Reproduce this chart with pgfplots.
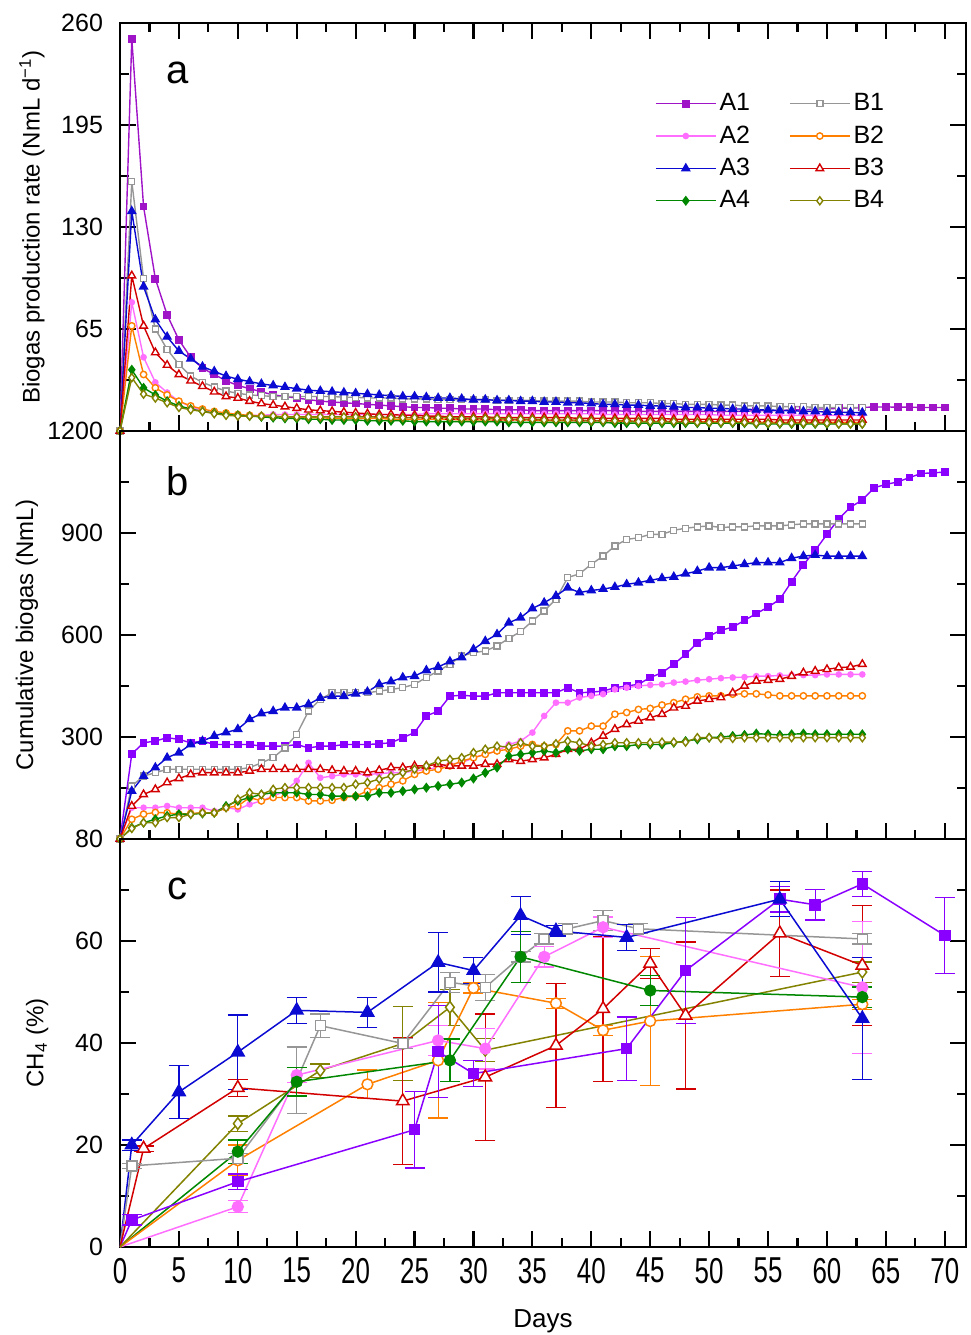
\documentclass[border=0pt]{standalone}
\usepackage{fontspec}
\setmainfont{Liberation Sans}
\usepackage{pgfplots}
\usepackage{pgfplotstable}
\pgfplotsset{compat=1.18}

\definecolor{cA1a}{RGB}{160,20,200}
\definecolor{cA1}{RGB}{138,0,255}
\definecolor{cA2}{RGB}{255,110,255}
\definecolor{cA3}{RGB}{10,10,210}
\definecolor{cA4}{RGB}{0,135,0}
\definecolor{cB1}{RGB}{150,150,150}
\definecolor{cB2}{RGB}{255,128,0}
\definecolor{cB3}{RGB}{210,0,0}
\definecolor{cB4}{RGB}{130,130,0}

\pgfplotstableread{
d A1 A2 A3 A4 B1 B2 B3 B4
0 0 0 0 0 0 0 0 0
1 250 82 140 39 159 67 99 34
2 143 47 92 27.5 97 36 67 23.5
3 97 31 71 23 65 27.5 50 21
4 74 24.5 60 19 52 23 42 18
5 58 19 51 16 42.5 19 36 15
6 47 15.5 46 14 35 16 32 13.5
7 40 13 41 12.5 31 14 28.5 12.5
8 36 11.5 38 11.5 28 12.5 25 11
9 32 10.5 35 10.5 25.5 11.5 22 10
10 29 10 33 10 24 10.5 21 9.5
11 27 10 31.5 9.5 23 10 19 9.5
12 25 10 30 9 22.5 9.5 17.5 9.5
13 23 10.5 29 8.5 22 9 16.5 9.5
14 22 10.5 28 8 22 9 15.5 9
15 21 10.5 27 8 22 8.5 14.5 9
16 20 10.5 26 7.5 22 8.5 13.5 9
17 19 10.5 25.5 7.5 22 8.5 13 9
18 18.5 10.5 25 7 22 8 12.5 9
19 18 10.5 24.5 7 21.5 8 12 9
20 17.5 10.5 24 7 21.5 8 11.5 9
21 17 10.5 23.5 6.5 21 8 11 9
22 16.5 10.5 23 6.5 21 8 10.5 9
23 16 10.5 22.5 6.5 21 7.5 10.5 8.5
24 15.5 10.5 22 6.5 20.5 7.5 10 8.5
25 15 10.5 22 6 20.5 7.5 10 8.5
26 15 11 21.5 6 20.5 7.5 9.5 8.5
27 14.5 11 21 6 20 7.5 9.5 8.5
28 14.5 11 21 6 20 7.5 9 8.5
29 14 11 20.5 6 20 7 9 8
30 14 11 20 6 20 7 9 8
31 14 11 20 6 20 7 9 8
32 13.5 11 19.5 6 19.5 7 8.5 8
33 13.5 11 19.5 5.5 19.5 7 8.5 7.5
34 13.5 11 19 5.5 19.5 7 8.5 7.5
35 13 11 19 5.5 19.5 7 8.5 7.5
36 13 11 18.5 5.5 19 6.5 8.5 7
37 13 11 18.5 5.5 19 6.5 8.5 7
38 13 11 18 5.5 19 6.5 8.5 7
39 13 11 18 5.5 19 6.5 8 7
40 13 11 17.5 5.5 18.5 6.5 8 6.5
41 13 10.5 17 5.5 18.5 6.5 8 6.5
42 13 10.5 17 5 18.5 6.5 8 6.5
43 12.5 10.5 16.5 5 18 6 8 6.5
44 12.5 10.5 16.5 5 18 6 8 6
45 12.5 10.5 16 5 18 6 8 6
46 12.5 10.5 16 5 17.5 6 8 6
47 12.5 10.5 15.5 5 17.5 6 7.5 6
48 12.5 10.5 15 5 17 6 7.5 6
49 12.5 10.5 15 5 17 6 7.5 5.5
50 12.5 10.5 14.5 5 17 6 7.5 5.5
51 12.5 10 14.5 5 16.5 6 7.5 5.5
52 12.5 10 14 5 16.5 6 7.5 5.5
53 12.5 10 14 5 16 5.5 7.5 5.5
54 13 10 13.5 4.5 16 5.5 7.5 5
55 13 10 13.5 4.5 16 5.5 7.5 5
56 13 10 13 4.5 15.5 5.5 7 5
57 13.5 10 13 4.5 15.5 5.5 7 5
58 13.5 10 12.5 4.5 15.5 5.5 7 5
59 14 10 12.5 4.5 15 5.5 7 5
60 14 10 12 4.5 15 5.5 7 5
61 14.5 10 12 4.5 15 5.5 7 4.5
62 14.5 10 11.8 4.5 15 5.5 7 4.5
63 15 10 11.7 4.5 15 5.5 7 4.5
64 15.3 nan nan nan nan nan nan nan
65 15.3 nan nan nan nan nan nan nan
66 15.2 nan nan nan nan nan nan nan
67 15.2 nan nan nan nan nan nan nan
68 15 nan nan nan nan nan nan nan
69 15 nan nan nan nan nan nan nan
70 15 nan nan nan nan nan nan nan
}\rateA

\pgfplotstableread{
d A1 A2 A3 A4 B1 B2 B3 B4
0 0 0 0 0 0 0 0 0
1 250 92 141 33 156 58 97 31
2 283 92 185 48 185 73 131 48
3 288 92 210 58 195 78 146 48
4 298 97 239 68 205 77 166 63
5 293 92 254 73 205 73 178 63
6 283 92 278 73 205 75 190 73
7 288 92 288 75 205 77 195 77
8 278 82 303 77 205 77 195 77
9 278 92 313 97 205 92 195 92
10 278 87 323 112 205 97 195 117
11 278 102 352 122 210 122 200 136
12 273 112 369 131 224 112 205 131
13 273 126 376 136 239 122 205 146
14 273 141 386 136 268 122 205 151
15 278 171 386 136 308 122 205 151
16 268 224 396 131 376 112 205 151
17 273 180 415 131 411 112 205 151
18 273 185 420 126 430 114 202 151
19 278 190 420 126 430 122 200 151
20 278 190 427 126 430 126 200 161
21 278 190 433 126 430 141 195 166
22 280 192 455 136 435 151 202 176
23 283 195 463 136 440 161 210 185
24 298 195 475 141 445 171 210 195
25 313 200 479 146 455 190 215 205
26 362 205 496 151 475 200 215 215
27 376 210 506 156 494 205 220 229
28 420 220 522 161 514 215 215 234
29 423 224 534 166 538 229 215 239
30 420 239 558 178 548 239 215 254
31 420 249 582 195 553 249 220 264
32 430 259 602 210 568 259 220 273
33 430 278 636 244 590 264 234 271
34 430 288 651 249 610 273 229 283
35 430 313 678 254 641 278 234 273
36 430 362 695 259 671 273 239 273
37 430 401 715 254 705 278 249 280
38 445 401 739 264 769 318 264 288
39 430 416 725 259 780 318 264 283
40 432 421 731 264 808 332 283 273
41 435 426 735 264 832 332 303 278
42 445 440 741 273 862 367 323 283
43 450 445 749 273 881 372 337 283
44 455 450 754 278 886 381 347 283
45 475 453 761 278 896 384 357 283
46 489 455 767 278 896 394 367 285
47 514 460 771 283 908 401 386 285
48 543 463 780 288 914 411 391 285
49 577 467 788 293 918 418 406 298
50 597 470 798 298 921 421 411 298
51 614 473 798 300 916 421 416 296
52 623 475 803 303 918 426 430 296
53 643 476 808 306 918 427 450 298
54 663 479 813 310 921 427 465 298
55 682 479 813 308 921 424 467 298
56 705 481 813 306 921 421 470 298
57 757 482 826 308 924 421 479 298
58 806 482 832 310 927 421 489 298
59 849 482 835 308 927 421 494 298
60 896 484 832 308 927 421 499 298
61 942 484 832 308 927 421 504 298
62 976 484 832 308 927 421 506 298
63 997 484 832 308 927 421 514 298
64 1033 nan nan nan nan nan nan nan
65 1043 nan nan nan nan nan nan nan
66 1050 nan nan nan nan nan nan nan
67 1063 nan nan nan nan nan nan nan
68 1075 nan nan nan nan nan nan nan
69 1077 nan nan nan nan nan nan nan
70 1079 nan nan nan nan nan nan nan
}\cumB

\pgfplotsset{
  base/.style={
    scale only axis, width=423bp, height=204bp,
    xmin=0, xmax=71.8,
    xtick={0,5,...,70}, minor x tick num=1, minor y tick num=1,
    tick align=inside,
    major tick length=8bp, minor tick length=4.5bp,
    axis line style={line width=1.1bp},
    tick style={black, line width=1.1bp},
    xticklabels={},
    yticklabel style={font=\fontsize{12.5bp}{15bp}\selectfont, xshift=-5bp},
    ylabel style={font=\fontsize{12bp}{14bp}\selectfont, anchor=center},
    /pgf/number format/assume math mode=true,
  },
  pl/.style={line width=0.7bp},
  pc/.style={line width=0.75bp,
     error bars/y dir=both, error bars/y explicit,
     error bars/error bar style={line width=0.6bp},
     error bars/error mark options={rotate=90, mark size=5bp, line width=0.6bp}},
}

\begin{document}
\begin{tikzpicture}
\useasboundingbox (-60bp,-44bp) rectangle (425.5bp,623.5bp);

% ---------------- panel a
\begin{axis}[base, at={(0,408bp)},
  ymin=0, ymax=260, ytick={0,65,130,195,260}, yticklabels={,65,130,195,260},
  ylabel={Biogas production rate (NmL d\textsuperscript{−1})},
  ylabel style={at={(axis description cs:-0.104,0.5)}},
  legend columns=2,
  legend cell align=left,
  legend image code/.code={\draw[mark repeat=2,mark phase=2,#1] plot coordinates {(0bp,0bp) (15bp,0bp) (30bp,0bp)};},
  legend style={draw=none, fill=none, at={(rel axis cs:0.625,0.845)}, anchor=north west,
     font=\fontsize{12.5bp}{15bp}\selectfont, row sep=3bp,
     nodes={inner sep=1.5bp},
     /tikz/every even column/.append style={column sep=18bp}},
]
\addplot[pl, cA1a, mark=square*, mark size=1.6bp] table[x=d,y=A1]{\rateA};
\addlegendentry{A1}
\addplot[pl, cB1, mark=square*, mark size=1.5bp, mark options={fill=white}] table[x=d,y=B1]{\rateA};
\addlegendentry{B1}
\addplot[pl, cA2, mark=*, mark size=1.3bp] table[x=d,y=A2]{\rateA};
\addlegendentry{A2}
\addplot[pl, cB2, mark=*, mark size=1.6bp, mark options={fill=white}] table[x=d,y=B2]{\rateA};
\addlegendentry{B2}
\addplot[pl, cA3, mark=triangle*, mark size=2.2bp] table[x=d,y=A3]{\rateA};
\addlegendentry{A3}
\addplot[pl, cB3, mark=triangle*, mark size=2.2bp, mark options={fill=white}] table[x=d,y=B3]{\rateA};
\addlegendentry{B3}
\addplot[pl, cA4, mark=diamond*, mark size=2bp] table[x=d,y=A4]{\rateA};
\addlegendentry{A4}
\addplot[pl, cB4, mark=diamond*, mark size=2bp, mark options={fill=white}] table[x=d,y=B4]{\rateA};
\addlegendentry{B4}
\node[font=\fontsize{20bp}{24bp}\selectfont] at (axis cs:4.9,228) {a};
\end{axis}

% ---------------- panel b
\begin{axis}[base, at={(0,204bp)}, xtick pos=left,
  ymin=0, ymax=1200, ytick={0,300,600,900,1200}, yticklabels={,300,600,900,1200},
  ylabel={Cumulative biogas (NmL)},
  ylabel style={at={(axis description cs:-0.11,0.5)}},
]
\addplot[pl, cA1, mark=square*, mark size=1.6bp] table[x=d,y=A1]{\cumB};
\addplot[pl, cB1, mark=square*, mark size=1.5bp, mark options={fill=white}] table[x=d,y=B1]{\cumB};
\addplot[pl, cA2, mark=*, mark size=1.3bp] table[x=d,y=A2]{\cumB};
\addplot[pl, cB2, mark=*, mark size=1.6bp, mark options={fill=white}] table[x=d,y=B2]{\cumB};
\addplot[pl, cA3, mark=triangle*, mark size=2.2bp] table[x=d,y=A3]{\cumB};
\addplot[pl, cB3, mark=triangle*, mark size=2.2bp, mark options={fill=white}] table[x=d,y=B3]{\cumB};
\addplot[pl, cA4, mark=diamond*, mark size=2bp] table[x=d,y=A4]{\cumB};
\addplot[pl, cB4, mark=diamond*, mark size=2bp, mark options={fill=white}] table[x=d,y=B4]{\cumB};
\node[font=\fontsize{20bp}{24bp}\selectfont] at (axis cs:4.9,1053) {b};
\end{axis}

% ---------------- panel c
\begin{axis}[base, at={(0,0)}, xtick pos=left,
  ymin=0, ymax=80, ytick={0,20,40,60,80},
  xticklabels={0,5,10,15,20,25,30,35,40,45,50,55,60,65,70},
  xticklabel style={font=\fontsize{18bp}{20bp}\selectfont, xscale=0.72, yshift=-2bp},
  xlabel={Days},
  xlabel style={font=\fontsize{13bp}{15bp}\selectfont, at={(axis description cs:0.5,-0.181)}, anchor=center},
  ylabel={CH\textsubscript{4} (\%)},
  ylabel style={at={(axis description cs:-0.098,0.5)}},
]
% first segments from the origin
\addplot[line width=0.75bp, cA1] coordinates {(0,0) (1,5.3)};
\addplot[line width=0.75bp, cA2] coordinates {(0,0) (10,7.9)};
\addplot[line width=0.75bp, cA3] coordinates {(0,0) (1,20)};
\addplot[line width=0.75bp, cA4] coordinates {(0,0) (10,18.7)};
\addplot[line width=0.75bp, cB1] coordinates {(0,0) (1,15.9)};
\addplot[line width=0.75bp, cB2] coordinates {(0,0) (10,17)};
\addplot[line width=0.75bp, cB3] coordinates {(0,0) (2,19.3)};
\addplot[line width=0.75bp, cB4] coordinates {(0,0) (10,24.2)};

\addplot[pc, cB4, mark=diamond*, mark size=2.9bp, mark options={fill=white}] coordinates {
 (10,24.2) +- (0,1.5) (17,34.6) +- (0,1.3) (24,39.9) +- (0,7.3) (28,47) +- (0,3.5)
 (31,38.6) +- (0,2.3) (63,53.9) +- (0,2)};
\addplot[pc, cB2, mark=*, mark size=2.7bp, mark options={fill=white}] coordinates {
 (10,17) +- (0,3) (21,31.9) +- (0,2.8) (27,36.6) +- (0,11.3) (30,50.8) +- (0,1)
 (37,47.8) +- (0,1) (41,42.5) +- (0,1) (45,44.3) +- (0,12.7) (63,47.6) +- (0,1)};
\addplot[pc, cB3, mark=triangle*, mark size=3.6bp, mark options={fill=white}] coordinates {
 (2,19.3) +- (0,0.5) (10,31.2) +- (0,1.7) (24,28.6) +- (0,12.4) (31,33.3) +- (0,12.4)
 (37,39.5) +- (0,12.2) (41,46.7) +- (0,14.2) (45,55.6) +- (0,3) (48,45.4) +- (0,14.4)
 (56,61.5) +- (0,8.5) (63,55.2) +- (0,11.7)};
\addplot[pc, cB1, mark=square*, mark size=2.5bp, mark options={fill=white}] coordinates {
 (1,15.9) +- (0,0.5) (10,17.4) +- (0,1) (15,32.7) +- (0,6.5) (17,43.4) +- (0,2.3)
 (24,39.9) +- (0,1) (28,51.9) +- (0,2) (31,50.9) +- (0,2.6) (34,56.9) +- (0,1)
 (36,60.4) +- (0,1) (38,62.4) +- (0,1) (41,64) +- (0,2) (44,62.4) +- (0,1) (63,60.4) +- (0,1)};
\addplot[pc, cA2, mark=*, mark size=2.7bp] coordinates {
 (10,7.9) +- (0,1.2) (15,33.7) +- (0,1.5) (27,40.5) +- (0,3) (31,38.9) +- (0,4)
 (36,56.9) +- (0,2) (41,62.7) +- (0,2) (63,50.9) +- (0,13)};
\addplot[pc, cA4, mark=*, mark size=2.7bp] coordinates {
 (10,18.7) +- (0,2.3) (15,32.4) +- (0,2.8) (28,36.6) +- (0,4.2) (34,56.9) +- (0,5)
 (45,50.3) +- (0,3) (63,49) +- (0,2)};
\addplot[pc, cA1, mark=square*, mark size=2.5bp] coordinates {
 (1,5.3) +- (0,1) (10,12.8) +- (0,1.5) (25,23) +- (0,7.5) (27,38.3) +- (0,9)
 (30,34) +- (0,2.6) (43,38.9) +- (0,6.2) (48,54.2) +- (0,10.4) (56,68.2) +- (0,2.5)
 (59,67.1) +- (0,3) (63,71.2) +- (0,2.4) (70,61.1) +- (0,7.4)};
\addplot[pc, cA3, mark=triangle*, mark size=3.6bp] coordinates {
 (1,20) +- (0,1) (5,30.4) +- (0,5.2) (10,38.2) +- (0,7.3) (15,46.4) +- (0,2.5)
 (21,46) +- (0,3) (27,55.8) +- (0,5.8) (30,54.2) +- (0,2.5) (34,65) +- (0,3.7)
 (37,62) +- (0,1) (43,60.7) +- (0,2.5) (56,68.2) +- (0,3.4) (63,44.8) +- (0,12)};
\node[font=\fontsize{20bp}{24bp}\selectfont] at (axis cs:4.9,70.3) {c};
\end{axis}
\end{tikzpicture}
\end{document}
